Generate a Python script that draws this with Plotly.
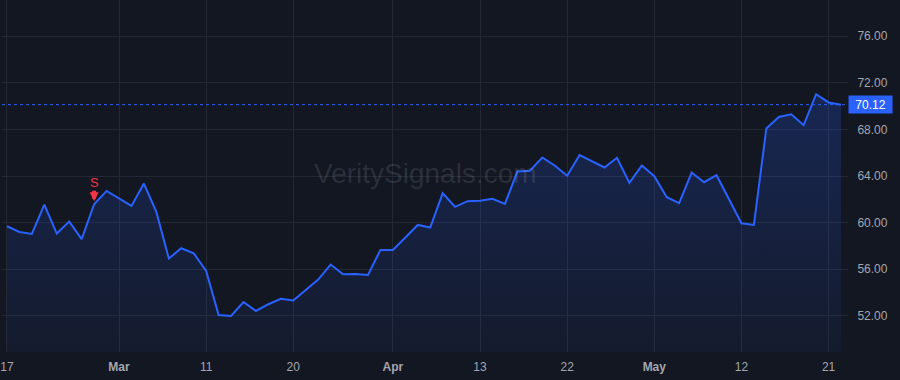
import pandas as pd
import plotly.graph_objects as go

# ---- data ----
start_date = "2026-02-17"
end_date = "2026-05-22"
market_holidays = ["2026-04-03"]
dates = [d.strftime("%Y-%m-%d") for d in pd.bdate_range(start_date, end_date)
         if d.strftime("%Y-%m-%d") not in market_holidays]

close = [59.69, 59.20, 59.03, 61.55, 59.06, 60.09, 58.58, 61.58, 62.72, 62.09,
         61.43, 63.35, 60.92, 56.92, 57.80, 57.37, 55.85, 52.08, 51.99, 53.19,
         52.42, 53.00, 53.47, 53.32, 54.22, 55.11, 56.40, 55.57, 55.60, 55.51,
         57.66, 57.66, 58.72, 59.80, 59.58, 62.52, 61.35, 61.84, 61.87, 62.04,
         61.61, 64.38, 64.44, 65.59, 64.90, 64.02, 65.80, 65.24, 64.73, 65.56,
         63.41, 64.90, 63.98, 62.18, 61.67, 64.30, 63.47, 64.07, 62.00, 59.95,
         59.80, 68.08, 69.07, 69.30, 68.36, 71.02, 70.31, 70.12]

tick_dates = ["2026-02-17", "2026-03-02", "2026-03-11", "2026-03-20", "2026-04-01",
              "2026-04-13", "2026-04-22", "2026-05-01", "2026-05-12", "2026-05-21"]
tick_labels = ["17", "<b>Mar</b>", "11", "20", "<b>Apr</b>",
               "13", "22", "<b>May</b>", "12", "21"]

signal_dates = ["2026-02-26"]
signal_labels = ["S"]

watermark = "VeritySignals.com"

# ---- style ----
BG = "#131722"
GRID = "#242834"
LINE = "#2962ff"
RED = "#f23645"
TXT = "#a3a6af"
FONT = "Liberation Sans, Arial, sans-serif"
y_lo, y_hi = 48.9, 79.1

fig = go.Figure()
fig.add_trace(go.Scatter(
    x=dates, y=close, mode="lines",
    line=dict(color=LINE, width=2),
    fill="tozeroy",
    fillgradient=dict(type="vertical", start=y_lo, stop=max(close),
                      colorscale=[[0, "rgba(41,98,255,0.05)"], [1, "rgba(41,98,255,0.22)"]]),
    hoverinfo="skip", showlegend=False,
))

last = close[-1]
fig.add_shape(type="line", xref="paper", x0=0, x1=1, yref="y", y0=last, y1=last,
              line=dict(color=LINE, width=1, dash="dot"), layer="above")
fig.add_annotation(xref="paper", x=1, xanchor="left", yref="y", y=last, yanchor="middle",
                   text=f"{last:.2f}", showarrow=False, bgcolor=LINE, width=41, height=15,
                   borderpad=1, font=dict(color="white", size=12, family=FONT))

for sd, sl in zip(signal_dates, signal_labels):
    sv = close[dates.index(sd)]
    # arrow
    fig.add_annotation(x=sd, y=sv, xref="x", yref="y", text="", showarrow=True,
                       ax=0, ay=-15, arrowhead=2, arrowsize=0.45, arrowwidth=4,
                       arrowcolor=RED, standoff=3)
    # letter
    fig.add_annotation(x=sd, y=sv, xref="x", yref="y", text=sl, showarrow=False,
                       yshift=22, font=dict(color=RED, size=13, family=FONT))

fig.add_annotation(xref="paper", yref="paper", x=0.5, y=0.508, text=watermark,
                   showarrow=False, font=dict(size=28, color="rgba(178,181,190,0.16)", family=FONT))

fig.update_layout(
    width=900, height=380,
    margin=dict(l=0, r=52, t=0, b=28),
    paper_bgcolor=BG, plot_bgcolor=BG,
    font=dict(family=FONT, color=TXT, size=12),
    xaxis=dict(type="category", range=[-0.4, 67.56], tickmode="array",
               tickvals=tick_dates, ticktext=tick_labels,
               showgrid=True, gridcolor=GRID, gridwidth=1, zeroline=False,
               ticks="outside", ticklen=4, tickcolor="rgba(0,0,0,0)",
               tickfont=dict(color=TXT, size=12), showline=False),
    yaxis=dict(side="right", range=[y_lo, y_hi], tick0=0, dtick=4, tickformat=".2f",
               showgrid=True, gridcolor=GRID, gridwidth=1, zeroline=False,
               ticks="outside", ticklen=6, tickcolor="rgba(0,0,0,0)",
               tickfont=dict(color=TXT, size=12), showline=False),
)

fig.write_html("out.html")
